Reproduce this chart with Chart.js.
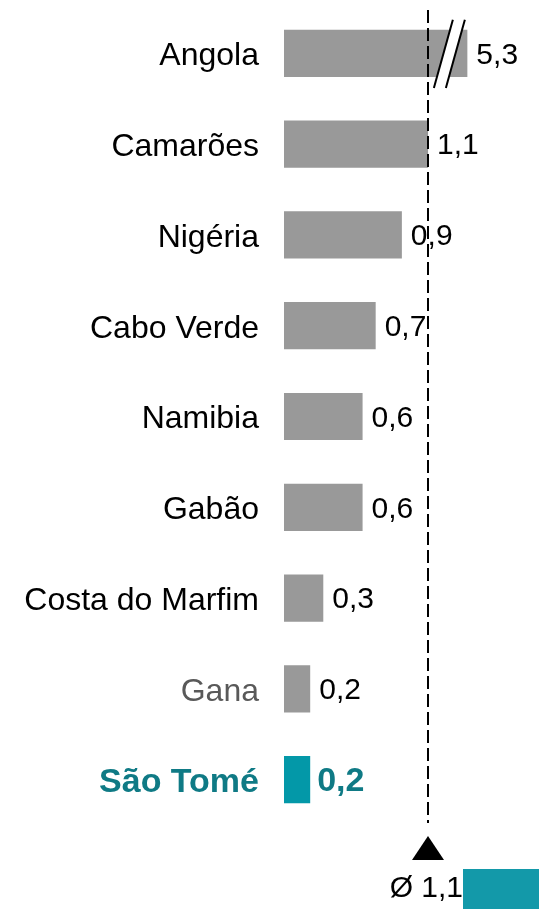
<!DOCTYPE html>
<html>
<head>
<meta charset="utf-8">
<script src="https://cdn.jsdelivr.net/npm/chart.js@4"></script>
<style>
  html, body { margin: 0; padding: 0; background: #fff; }
  #wrap { position: relative; width: 539px; height: 909px; }
</style>
</head>
<body>
<div id="wrap"><canvas id="chart" width="539" height="909"></canvas></div>
<script>
// ─── Data ─────────────────────────────────────────────────────
const countries = ['Angola', 'Camarões', 'Nigéria', 'Cabo Verde', 'Namibia', 'Gabão', 'Costa do Marfim', 'Gana', 'São Tomé'];
const values    = [5.3, 1.1, 0.9, 0.7, 0.6, 0.6, 0.3, 0.2, 0.2];
const average   = 1.1;
const breakAt   = 1.4;   // bars longer than this are cut with a // mark
const xMax      = 1.947;

// ─── Styling ──────────────────────────────────────────────────
const GREY = '#999999';
const TEAL = '#0398a8';
const TEAL_TEXT = '#0f7a85';
const FONT = '"Liberation Sans", Arial, sans-serif';
const HIGHLIGHT = countries.indexOf('São Tomé');
const MUTED = countries.indexOf('Gana');

const fmt = v => v.toFixed(1).replace('.', ',');
const shown = values.map(v => Math.min(v, breakAt));

// value labels, break marks, average line + marker
const overlay = {
  id: 'overlay',
  afterDatasetsDraw(chart) {
    const { ctx, scales: { x }, chartArea } = chart;
    const bars = chart.getDatasetMeta(0).data;

    // break marks on cut bars
    bars.forEach((bar, i) => {
      if (values[i] <= breakAt) return;
      const cx = bar.x - 18, top = bar.y - bar.height / 2 - 10, bot = bar.y + bar.height / 2 + 11;
      const slant = 9.5, gap = 6;
      ctx.save();
      ctx.fillStyle = '#fff';
      ctx.beginPath();
      ctx.moveTo(cx - gap + slant, top);
      ctx.lineTo(cx + gap + slant, top);
      ctx.lineTo(cx + gap - slant, bot);
      ctx.lineTo(cx - gap - slant, bot);
      ctx.closePath();
      ctx.fill();
      ctx.strokeStyle = '#000';
      ctx.lineWidth = 2;
      [-gap, gap].forEach(d => {
        ctx.beginPath();
        ctx.moveTo(cx + d + slant, top);
        ctx.lineTo(cx + d - slant, bot);
        ctx.stroke();
      });
      ctx.restore();
    });

    // average dashed line
    const ax = Math.round(x.getPixelForValue(average));
    ctx.save();
    ctx.strokeStyle = '#000';
    ctx.lineWidth = 2;
    ctx.setLineDash([13, 5]);
    ctx.beginPath();
    ctx.moveTo(ax, 10);
    ctx.lineTo(ax, chartArea.bottom - 2);
    ctx.stroke();
    ctx.restore();

    // value labels
    ctx.save();
    ctx.textBaseline = 'middle';
    ctx.textAlign = 'left';
    bars.forEach((bar, i) => {
      const hi = i === HIGHLIGHT;
      ctx.font = hi ? 'bold 34px ' + FONT : '30px ' + FONT;
      ctx.fillStyle = hi ? TEAL_TEXT : '#000';
      ctx.fillText(fmt(values[i]), bar.x + (hi ? 7 : 9), bar.y + 2);
    });

    // average marker
    const ty = chartArea.bottom + 11;
    ctx.fillStyle = '#000';
    ctx.beginPath();
    ctx.moveTo(ax, ty);
    ctx.lineTo(ax + 16, ty + 24);
    ctx.lineTo(ax - 16, ty + 24);
    ctx.closePath();
    ctx.fill();

    ctx.fillStyle = '#1399a9';
    ctx.fillRect(463, chart.height - 40, chart.width - 463, 40);

    ctx.fillStyle = '#000';
    ctx.font = '30px ' + FONT;
    ctx.textAlign = 'right';
    ctx.fillText('Ø 1,1', 463, chart.height - 20);
    ctx.restore();
  }
};

new Chart(document.getElementById('chart'), {
  type: 'bar',
  data: {
    labels: countries,
    datasets: [{
      data: shown,
      backgroundColor: countries.map((c, i) => i === HIGHLIGHT ? TEAL : GREY),
      borderWidth: 0,
      categoryPercentage: 1,
      barPercentage: 0.52,
    }],
  },
  options: {
    indexAxis: 'y',
    responsive: false,
    animation: false,
    layout: { padding: { top: 8, bottom: 84, left: 0, right: 0 } },
    plugins: { legend: { display: false }, tooltip: { enabled: false } },
    scales: {
      x: { display: false, min: 0, max: xMax },
      y: {
        grid: { display: false, drawTicks: false },
        border: { display: false },
        afterFit: scale => { scale.width = 284; scale.paddingTop = 0; scale.paddingBottom = 0; },
        ticks: {
          padding: 25,
          labelOffset: 3,
          color: ctx => ctx.index === HIGHLIGHT ? TEAL_TEXT : ctx.index === MUTED ? '#595959' : '#000',
          font: ctx => ctx.index === HIGHLIGHT
            ? { family: FONT, size: 34, weight: 'bold' }
            : { family: FONT, size: 32, weight: 'normal' },
        },
      },
    },
  },
  plugins: [overlay],
});
</script>
</body>
</html>
